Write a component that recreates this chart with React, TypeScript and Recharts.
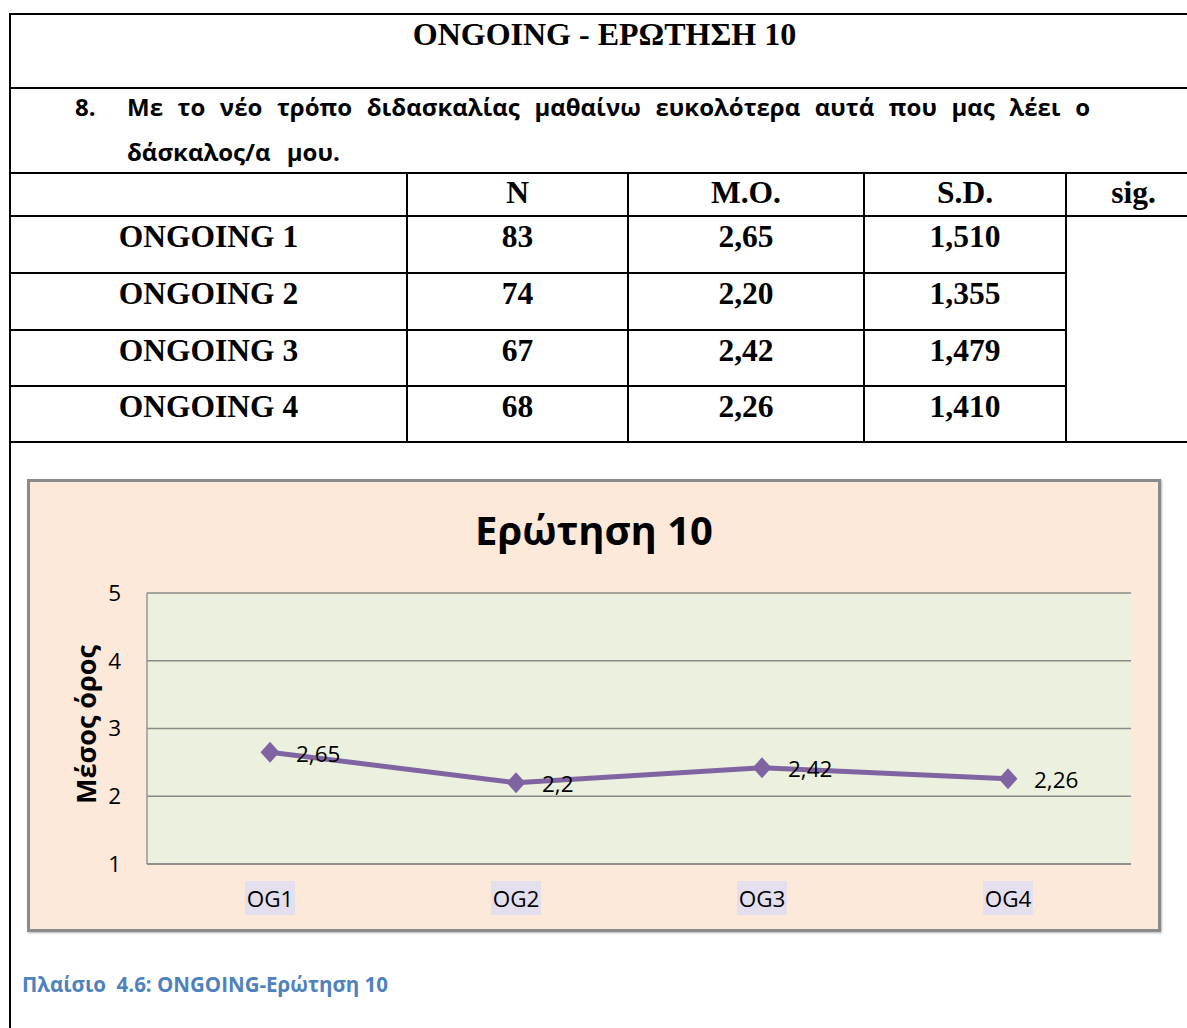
import React from 'react';
import { LineChart, Line, XAxis, YAxis, CartesianGrid, LabelList, Label } from 'recharts';

// ---- data ----
const categories = ['OG1', 'OG2', 'OG3', 'OG4'];
const meanValues = [2.65, 2.2, 2.42, 2.26];
const yTicks = [1, 2, 3, 4, 5];
const groupNames = ['ONGOING 1', 'ONGOING 2', 'ONGOING 3', 'ONGOING 4'];
const nValues = ['83', '74', '67', '68'];
const moValues = ['2,65', '2,20', '2,42', '2,26'];
const sdValues = ['1,510', '1,355', '1,479', '1,410'];
const headers = ['N', 'M.O.', 'S.D.', 'sig.'];

const tableTitle = 'ONGOING - ΕΡΩΤΗΣΗ 10';
const questionNumber = '8.';
const questionLine1 = 'Με το νέο τρόπο διδασκαλίας μαθαίνω ευκολότερα αυτά που μας λέει ο';
const questionLine2 = 'δάσκαλος/α μου.';
const chartTitle = 'Ερώτηση 10';
const yAxisTitle = 'Μέσος όρος';
const caption = 'Πλαίσιο  4.6: ONGOING-Ερώτηση 10';

const data = categories.map((c, i) => ({ name: c, value: meanValues[i] }));

const SERIF = '"Liberation Serif", "Times New Roman", serif';
const SANS = '"Open Sans", "Noto Sans", sans-serif';
const PURPLE = '#8064A2';
const GRID = '#8a8a8a';

const fmt = (v: number) => String(v).replace('.', ',');

function HLine({ x1, x2, y }: { x1: number; x2: number; y: number }) {
  return <div style={{ position: 'absolute', left: x1, top: y, width: x2 - x1, height: 2, background: '#000' }} />;
}
function VLine({ x, y1, y2 }: { x: number; y1: number; y2: number }) {
  return <div style={{ position: 'absolute', left: x, top: y1, width: 2, height: y2 - y1, background: '#000' }} />;
}

function Cell({ left, width, baseline, text, size = 31.5 }: { left: number; width: number; baseline: number; text: string; size?: number }) {
  return (
    <div
      style={{
        position: 'absolute',
        left,
        width,
        top: baseline - 0.8375 * size,
        height: size,
        lineHeight: `${size}px`,
        fontSize: size,
        fontFamily: SERIF,
        fontWeight: 700,
        textAlign: 'center',
        whiteSpace: 'nowrap',
        color: '#000',
      }}
    >
      {text}
    </div>
  );
}

const colBounds = [
  [11, 406],
  [408, 627],
  [629, 863],
  [865, 1065],
  [1067, 1200],
];
const rowTops = [216, 273, 330, 386];

const Diamond = (props: any) => {
  const { cx, cy } = props;
  if (cx == null || cy == null) return null;
  return (
    <polygon
      points={`${cx},${cy - 10.5} ${cx + 9.5},${cy} ${cx},${cy + 10.5} ${cx - 9.5},${cy}`}
      fill={PURPLE}
      stroke="none"
    />
  );
};

const XTick = (props: any) => {
  const { x, y, payload } = props;
  return (
    <g>
      <rect x={x - 25} y={y - 17} width={50} height={34} fill="#E4DFEC" />
      <text x={x} y={y} textAnchor="middle" dominantBaseline="central" fontFamily={SANS} fontSize={22.5} fill="#000">
        {payload.value}
      </text>
    </g>
  );
};

const ValueLabel = (props: any) => {
  const { x, y, value } = props;
  return (
    <text x={x + 26} y={y + 1} textAnchor="start" dominantBaseline="central" fontFamily={SANS} fontSize={22.5} fill="#000">
      {fmt(value)}
    </text>
  );
};

const YTitle = (props: any) => {
  const { viewBox } = props;
  const cx = viewBox.x + 55;
  const cy = viewBox.y + viewBox.height / 2 - 4;
  return (
    <text
      x={cx}
      y={cy}
      transform={`rotate(-90 ${cx} ${cy})`}
      textAnchor="middle"
      dominantBaseline="central"
      fontFamily={SANS}
      fontWeight={700}
      fontSize={27}
      fill="#000"
    >
      {yAxisTitle}
    </text>
  );
};

const Q_SIZE = 24;

export default function App() {
  return (
    <div style={{ position: 'absolute', left: 0, top: 0, width: 1187, height: 1028, overflow: 'hidden', background: '#fff' }}>
      {/* table lines */}
      <HLine x1={9} x2={1200} y={13} />
      <HLine x1={9} x2={1200} y={87} />
      <HLine x1={9} x2={1200} y={172} />
      <HLine x1={9} x2={1200} y={215} />
      <HLine x1={9} x2={1066} y={272} />
      <HLine x1={9} x2={1066} y={329} />
      <HLine x1={9} x2={1066} y={385} />
      <HLine x1={9} x2={1200} y={441} />
      <VLine x={9} y1={13} y2={1028} />
      <VLine x={406} y1={172} y2={443} />
      <VLine x={627} y1={172} y2={443} />
      <VLine x={863} y1={172} y2={443} />
      <VLine x={1065} y1={172} y2={443} />

      {/* table title */}
      <Cell left={9} width={1191} baseline={45} text={tableTitle} size={32} />

      {/* question */}
      <div
        style={{
          position: 'absolute',
          left: 75,
          top: 116 - 0.888 * Q_SIZE,
          lineHeight: `${Q_SIZE}px`,
          fontSize: Q_SIZE,
          fontFamily: SANS,
          fontWeight: 700,
          color: '#000',
        }}
      >
        {questionNumber}
      </div>
      <div
        style={{
          position: 'absolute',
          left: 127,
          width: 963,
          top: 116 - 0.888 * Q_SIZE,
          lineHeight: `${Q_SIZE}px`,
          height: Q_SIZE,
          fontSize: Q_SIZE,
          fontFamily: SANS,
          fontWeight: 700,
          color: '#000',
          textAlign: 'justify',
          textAlignLast: 'justify',
          whiteSpace: 'normal',
        }}
      >
        {questionLine1}
      </div>
      <div
        style={{
          position: 'absolute',
          left: 127,
          top: 161 - 0.888 * Q_SIZE,
          lineHeight: `${Q_SIZE}px`,
          fontSize: Q_SIZE,
          fontFamily: SANS,
          fontWeight: 700,
          color: '#000',
          wordSpacing: 10,
          whiteSpace: 'nowrap',
        }}
      >
        {questionLine2}
      </div>

      {/* header row */}
      {headers.map((h, i) => (
        <Cell key={h} left={colBounds[i + 1][0]} width={colBounds[i + 1][1] - colBounds[i + 1][0]} baseline={203} text={h} />
      ))}
      {/* data rows */}
      {groupNames.map((g, r) => (
        <React.Fragment key={g}>
          <Cell left={colBounds[0][0]} width={colBounds[0][1] - colBounds[0][0]} baseline={rowTops[r] + 31} text={g} />
          <Cell left={colBounds[1][0]} width={colBounds[1][1] - colBounds[1][0]} baseline={rowTops[r] + 31} text={nValues[r]} />
          <Cell left={colBounds[2][0]} width={colBounds[2][1] - colBounds[2][0]} baseline={rowTops[r] + 31} text={moValues[r]} />
          <Cell left={colBounds[3][0]} width={colBounds[3][1] - colBounds[3][0]} baseline={rowTops[r] + 31} text={sdValues[r]} />
        </React.Fragment>
      ))}

      {/* chart box */}
      <div
        style={{
          position: 'absolute',
          left: 27,
          top: 479,
          width: 1134,
          height: 453,
          boxSizing: 'border-box',
          border: '3px solid #8a8a8a',
          background: '#FDE9D9',
          boxShadow: '1px 1px 2px rgba(0,0,0,0.3)',
        }}
      >
        <LineChart
          width={1128}
          height={447}
          data={data}
          margin={{ top: 111, right: 27, bottom: 0, left: 0 }}
          style={{ position: 'absolute', left: 0, top: 0 }}
        >
          <CartesianGrid fill="#EBF1DE" vertical={false} stroke={GRID} strokeWidth={1.3} />
          <XAxis
            dataKey="name"
            scale="band"
            height={65}
            axisLine={{ stroke: GRID, strokeWidth: 1.3 }}
            tickLine={false}
            tickSize={0}
            tickMargin={34}
            tick={<XTick />}
            interval={0}
          />
          <YAxis
            domain={[1, 5]}
            ticks={yTicks}
            width={117}
            axisLine={{ stroke: GRID, strokeWidth: 1.3 }}
            tickLine={false}
            tickSize={0}
            tickMargin={26}
            tick={{ fontFamily: SANS, fontSize: 22.5, fill: '#000' }}
            allowDataOverflow
          >
            <Label content={<YTitle />} />
          </YAxis>
          <Line
            type="linear"
            dataKey="value"
            stroke={PURPLE}
            strokeWidth={5}
            dot={<Diamond />}
            activeDot={false}
            isAnimationActive={false}
          >
            <LabelList dataKey="value" content={<ValueLabel />} />
          </Line>
        </LineChart>
        <div
          style={{
            position: 'absolute',
            left: -3,
            width: 1134,
            top: 546 - 482 - 0.888 * 40,
            lineHeight: '40px',
            fontSize: 40,
            fontFamily: SANS,
            fontWeight: 700,
            textAlign: 'center',
            color: '#000',
          }}
        >
          {chartTitle}
        </div>
      </div>

      {/* caption */}
      <div
        style={{
          position: 'absolute',
          left: 22,
          top: 992 - 0.888 * 20.5,
          lineHeight: '20.5px',
          fontSize: 20.5,
          fontFamily: SANS,
          fontWeight: 700,
          color: '#4F81BD',
          whiteSpace: 'pre',
        }}
      >
        {caption}
      </div>
    </div>
  );
}
